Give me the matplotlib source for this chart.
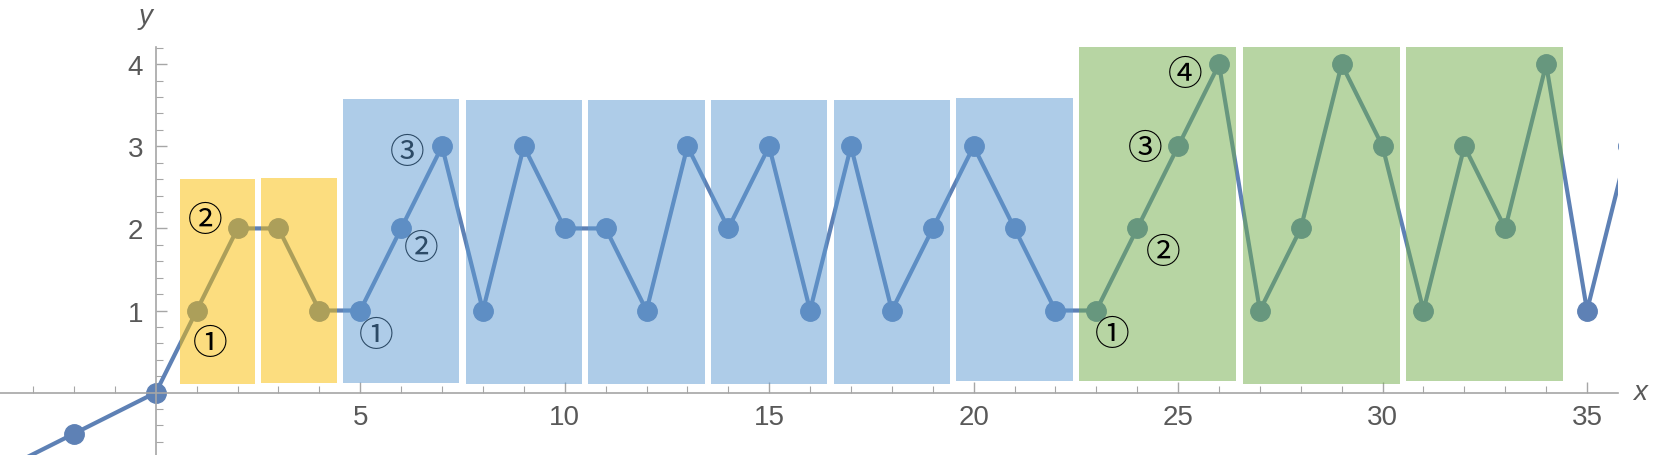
import matplotlib.pyplot as plt
from matplotlib.patches import Rectangle
from matplotlib.ticker import MultipleLocator

# Data
x = [-4, -2, 0, 1, 2, 3, 4, 5, 6, 7, 8, 9, 10, 11, 12, 13, 14, 15, 16, 17, 18,
     19, 20, 21, 22, 23, 24, 25, 26, 27, 28, 29, 30, 31, 32, 33, 34, 35, 36]
y = [-1, -0.5, 0, 1, 2, 2, 1, 1, 2, 3, 1, 3, 2, 2, 1, 3, 2, 3, 1, 3, 1,
     2, 3, 2, 1, 1, 2, 3, 4, 1, 2, 4, 3, 1, 3, 2, 4, 1, 3]

# highlighted groups (first x, last x, top of box, colour)
grp_start = [1, 3, 5, 8, 11, 14, 17, 20, 23, 27, 31]
grp_end = [2, 4, 7, 10, 13, 16, 19, 22, 26, 30, 34]
grp_top = [2.60, 2.61, 3.58, 3.56, 3.56, 3.56, 3.56, 3.59, 4.39, 4.37, 4.38]
grp_bottom = [0.11, 0.12, 0.12, 0.11, 0.11, 0.11, 0.11, 0.14, 0.14, 0.11, 0.14]
grp_kind = ['y', 'y', 'b', 'b', 'b', 'b', 'b', 'b', 'g', 'g', 'g']

# circled step labels
lab_text = ['①', '②', '①', '②', '③', '①', '②', '③', '④']
lab_x = [1.32, 1.22, 5.39, 6.50, 6.15, 23.38, 24.63, 24.20, 25.18]
lab_y = [0.60, 2.10, 0.70, 1.76, 2.93, 0.71, 1.71, 2.98, 3.88]
lab_kind = ['y', 'y', 'b', 'b', 'b', 'g', 'g', 'g', 'g']

line_col = '#5E81B5'
box_col = {'y': '#FBBD01', 'b': '#5F9BD3', 'g': '#71AD49'}
lab_col = {'y': 'black', 'b': '#2C4A66', 'g': 'black'}
axis_col = '#A6A6A6'
text_col = '#595959'

fig = plt.figure(figsize=(16.54, 4.56), dpi=100)
ax = fig.add_axes([0, 0, 1617.7 / 1654, 408 / 456])

ax.plot(x, y, '-o', color=line_col, lw=3, ms=14, zorder=2)

pad = 0.42
for s, e, t, b, k in zip(grp_start, grp_end, grp_top, grp_bottom, grp_kind):
    ax.add_patch(Rectangle((s - pad, b), (e - s) + 2 * pad, t - b,
                           facecolor=box_col[k], alpha=0.5, lw=0, zorder=3))

for t, lx, ly, k in zip(lab_text, lab_x, lab_y, lab_kind):
    ax.text(lx, ly, t, color=lab_col[k], fontsize=25, ha='center', va='center',
            family=['DejaVu Serif', 'Noto Sans CJK JP'], zorder=4)

ax.set_xlim(-3.81, 35.75)
ax.set_ylim(-0.76, 4.21)

for side in ['top', 'right']:
    ax.spines[side].set_visible(False)
ax.spines['left'].set_position(('data', 0))
ax.spines['bottom'].set_position(('data', 0))
for side in ['left', 'bottom']:
    ax.spines[side].set_color(axis_col)
    ax.spines[side].set_linewidth(1.2)

ax.xaxis.set_minor_locator(MultipleLocator(1))
ax.yaxis.set_minor_locator(MultipleLocator(0.2))
ax.set_xticks([5, 10, 15, 20, 25, 30, 35])
ax.set_yticks([1, 2, 3, 4])
ax.tick_params(which='major', direction='in', length=8, width=1, color=axis_col,
               labelsize=20, labelcolor=text_col)
ax.tick_params(which='minor', direction='in', length=5, width=0.8, color=axis_col)
ax.tick_params(axis='x', pad=8)
ax.tick_params(axis='y', pad=9)
for lbl in ax.get_xticklabels() + ax.get_yticklabels():
    lbl.set_family('Liberation Sans')

fig.text(146 / 1654, 1 - 17 / 456, 'y', style='italic', fontsize=20,
         color=text_col, ha='center', va='center', family='Liberation Sans')
fig.text(1640 / 1654, 1 - 393 / 456, 'x', style='italic', fontsize=20,
         color=text_col, ha='center', va='center', family='Liberation Sans')

fig.savefig('out.png', dpi=100)
